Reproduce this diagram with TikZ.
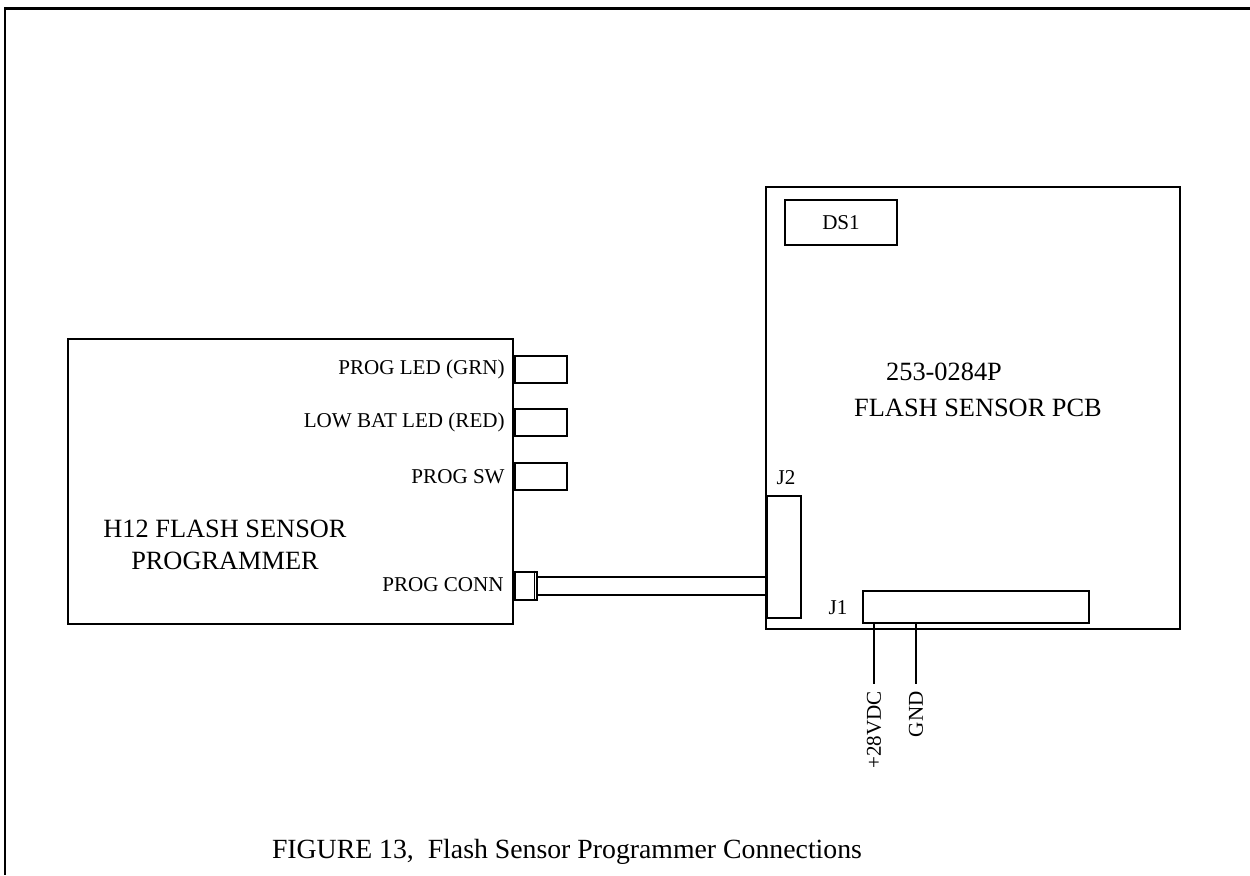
\documentclass[tikz,border=0pt]{standalone}
\usepackage{fontspec}
\setmainfont{Liberation Serif}
\usetikzlibrary{positioning,calc}

\begin{document}
\begin{tikzpicture}[x=0.2mm, y=-0.2mm,
  part/.style={draw, line width=1.6pt, inner sep=0pt},
  lbl/.style={font=\fontsize{12}{14}\selectfont, inner sep=0pt},
  big/.style={font=\fontsize{15}{18}\selectfont, inner sep=0pt, align=center},
  cable/.style={line width=1.1pt}]
  \useasboundingbox (0,0) rectangle (1250,875);
  % sheet frame
  \draw[line width=1.7pt] (1250,8) -- (5,8) -- (5,875);

  % programmer
  \node[part, minimum width=89mm, minimum height=57mm] (prog) at (290.5,481.5) {};
  \node[big] (progname) at (225,545) {H12 FLASH SENSOR\\PROGRAMMER};
  \foreach \y/\n/\t in {369.5/led/PROG LED (GRN), 422.5/bat/LOW BAT LED (RED), 476.5/sw/PROG SW} {
    \node[part, minimum width=10.4mm, minimum height=5.4mm] (\n) at (541,\y) {};
    \node[lbl, anchor=east] (\n txt) at (505,\y) {\t};
  }
  \node[part, minimum width=4.4mm, minimum height=5.6mm] (conn) at (526,586) {};
  \draw[line width=1pt] ([xshift=-0.8mm]conn.north east) -- ([xshift=-0.8mm]conn.south east);
  \node[lbl, anchor=east] (conntxt) at (504,585) {PROG CONN};

  % flash sensor pcb
  \node[part, minimum width=82.8mm, minimum height=88.4mm] (pcb) at (973,408) {};
  \node[part, lbl, minimum width=22.4mm, minimum height=9mm] (ds1) at (841,222.5) {DS1};
  \node[big] (pcbnum) at (944,372) {253-0284P};
  \node[big] (pcbname) at (978,408) {FLASH SENSOR PCB};
  \node[part, minimum width=6.8mm, minimum height=24.4mm] (j2) at (784,557) {};
  \node[lbl] (j2txt) at (786,478) {J2};
  \node[part, minimum width=45.2mm, minimum height=6.4mm] (j1) at (976,607) {};
  \node[lbl] (j1txt) at (838,608) {J1};

  % cable
  \draw[cable] ([yshift=1.8mm]conn.east) -- ([yshift=1.8mm]conn.east -| j2.west);
  \draw[cable] ([yshift=-1.8mm]conn.east) -- ([yshift=-1.8mm]conn.east -| j2.west);

  % power leads
  \coordinate (vin) at (874,684);
  \coordinate (gnd) at (916,684);
  \draw[line width=1.6pt] (j1.south -| vin) -- (vin);
  \draw[line width=1.6pt] (j1.south -| gnd) -- (gnd);
  \node[lbl, rotate=90, anchor=east] (vintxt) at ([yshift=-1.4mm]vin) {+28VDC};
  \node[lbl, rotate=90, anchor=east] (gndtxt) at ([yshift=-1.4mm]gnd) {GND};

  \node[font=\fontsize{15.8}{18}\selectfont, inner sep=0pt] (caption) at (567,852) {FIGURE 13,\ \ Flash Sensor Programmer Connections};
\end{tikzpicture}
\end{document}
